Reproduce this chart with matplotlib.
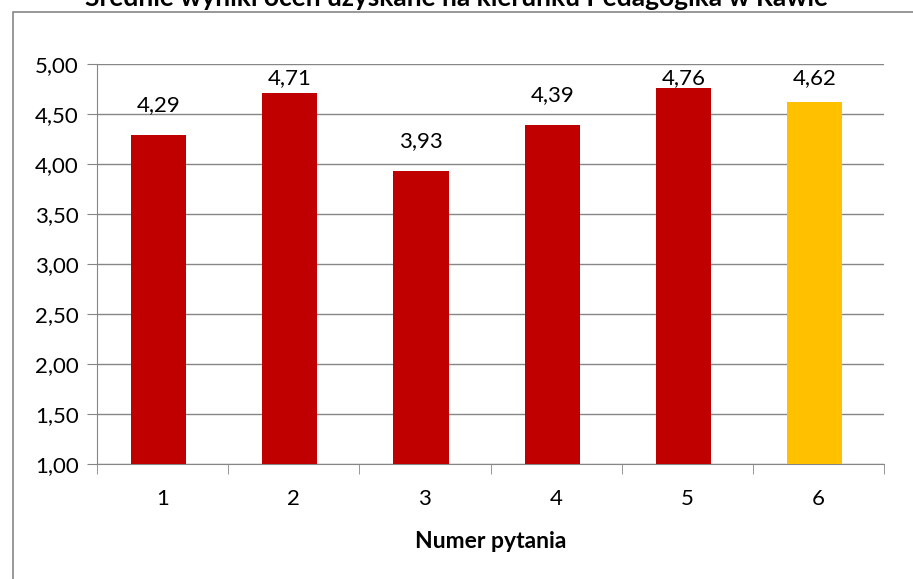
import matplotlib
matplotlib.use("Agg")
import matplotlib.pyplot as plt
from matplotlib.patches import Rectangle

questions = ["1", "2", "3", "4", "5", "6"]
scores = [4.29, 4.71, 3.93, 4.39, 4.76, 4.62]
colors = ["#C00000"] * 5 + ["#FFC000"]
yticks = [1.0, 1.5, 2.0, 2.5, 3.0, 3.5, 4.0, 4.5, 5.0]

plt.rcParams["font.family"] = ["Lato", "DejaVu Sans"]

fig = plt.figure(figsize=(9.13, 5.79), dpi=100)
fig.patches.append(Rectangle((13 / 913, -0.1), 1.2, 1 - 12 / 579 + 0.1,
                             transform=fig.transFigure, fill=False,
                             edgecolor="#868686", linewidth=1.2))
ax = fig.add_axes([97 / 913, 1 - 464 / 579, 787 / 913, 400 / 579])

x = range(len(questions))
ax.bar([i - 0.03 for i in x], scores, width=0.42, color=colors, zorder=3)
ax.set_ylim(1, 5)
ax.set_xlim(-0.5, len(questions) - 0.5)
ax.set_yticks(yticks)
ax.set_yticklabels([f"{t:.2f}".replace(".", ",") for t in yticks], fontsize=16)
ax.yaxis.grid(True, color="#868686", linewidth=1, zorder=0)
ax.set_axisbelow(True)

ax.set_xticks(list(x))
ax.set_xticklabels(questions, fontsize=16)
ax.tick_params(axis="x", length=0, pad=18)
ax.set_xticks([i - 0.5 for i in range(len(questions) + 1)], minor=True)
ax.tick_params(axis="x", which="minor", length=7, color="#868686", direction="out")
ax.tick_params(axis="y", length=7, color="#868686", direction="out", pad=6)

for s in ["top", "right"]:
    ax.spines[s].set_visible(False)
for s in ["left", "bottom"]:
    ax.spines[s].set_color("#868686")

for i, v in enumerate(scores):
    ax.text(i - 0.03, min(v + 0.3, 4.86), f"{v:.2f}".replace(".", ","),
            ha="center", va="center", fontsize=16)

ax.set_xlabel("Numer pytania", fontsize=16.5, fontweight="bold", labelpad=16)
fig.text(0.5, 1 - 6 / 579, "Średnie wyniki ocen uzyskane na kierunku Pedagogika w Rawie",
         ha="center", va="baseline", fontsize=19, fontweight="bold")

fig.savefig("out.png", dpi=100)
